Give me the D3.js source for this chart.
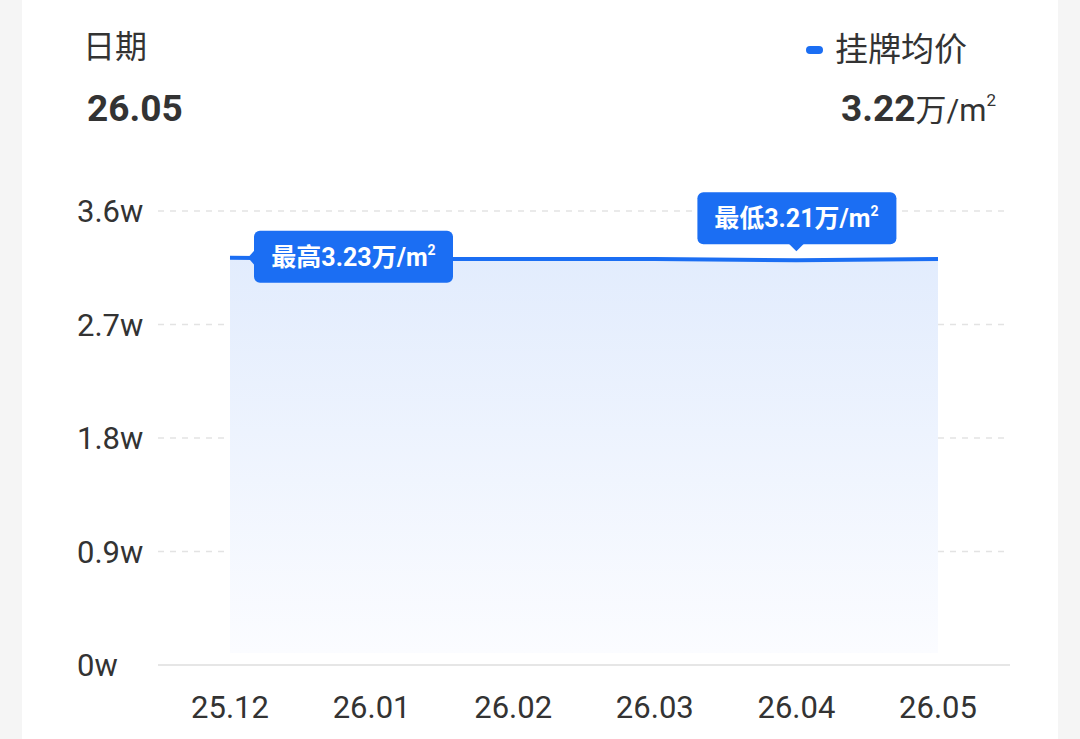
<!DOCTYPE html>
<html><head><meta charset="utf-8">
<script src="https://cdn.jsdelivr.net/npm/d3@7"></script>
<style>
html,body{margin:0;padding:0;background:#f5f5f5;}
svg{display:block;font-family:Roboto,"Noto Sans CJK SC",sans-serif;}
</style></head><body>
<svg id="c" width="1080" height="739"></svg>
<script>
const months = ["25.12","26.01","26.02","26.03","26.04","26.05"];
const prices = [3.23, 3.22, 3.22, 3.22, 3.21, 3.22];
const yTicks = [0, 0.9, 1.8, 2.7, 3.6];
const seriesName = "挂牌均价";
const unit = "万/m²";

const svg = d3.select("#c");
svg.append("rect").attr("x",22).attr("y",0).attr("width",1036).attr("height",739).attr("fill","#fff");

const x = d3.scalePoint().domain(months).range([230, 938]);
const y = d3.scaleLinear().domain([0, 3.6]).range([665, 211]);
const blue = "#1b6ef3";

// grid
svg.append("g").selectAll("line").data(yTicks.filter(d=>d>0)).join("line")
  .attr("x1",158).attr("x2",1008).attr("y1",d=>y(d)).attr("y2",d=>y(d))
  .attr("stroke","#e3e3e3").attr("stroke-width",1.5).attr("stroke-dasharray","6,6");
svg.append("line").attr("x1",158).attr("x2",1010).attr("y1",y(0)).attr("y2",y(0))
  .attr("stroke","#e6e6e6").attr("stroke-width",2);

// y labels
svg.append("g").selectAll("text").data(yTicks).join("text")
  .attr("x",77).attr("y",d=>y(d)+11).attr("font-size",31).attr("fill","#333")
  .text(d=>d3.format("~g")(d)+"w");

// x labels
svg.append("g").selectAll("text").data(months).join("text")
  .attr("x",d=>x(d)).attr("y",718).attr("text-anchor","middle").attr("font-size",31).attr("fill","#333")
  .text(d=>d);

// gradient
const defs = svg.append("defs");
const g = defs.append("linearGradient").attr("id","ag").attr("x1",0).attr("y1",0).attr("x2",0).attr("y2",1);
g.append("stop").attr("offset","0%").attr("stop-color","#e2ecfd");
g.append("stop").attr("offset","100%").attr("stop-color","#fbfcff");

const data = months.map((m,i)=>({m, v:prices[i]}));
svg.append("path").datum(data)
  .attr("d", d3.area().x(d=>x(d.m)).y0(y(0)-12).y1(d=>y(d.v)))
  .attr("fill","url(#ag)");
svg.append("path").datum(data)
  .attr("d", d3.line().x(d=>x(d.m)).y(d=>y(d.v)))
  .attr("fill","none").attr("stroke",blue).attr("stroke-width",4);

// tooltips
const maxI = prices.indexOf(d3.max(prices));
const minI = prices.lastIndexOf(d3.min(prices));
function label(gSel, prefix, val, cx, cy){
  const t = gSel.append("text").attr("x",cx).attr("y",cy+9).attr("text-anchor","middle")
    .attr("fill","#fff").attr("font-size",25).attr("font-weight","bold");
  t.append("tspan").text(prefix + val.toFixed(2) + "万/m");
  t.append("tspan").attr("font-size",14).attr("dy",-11).text("2");
}
// max: arrow left
{
  const px = x(months[maxI]), py = y(prices[maxI]);
  const bx = px+24, bw = 199, bh = 52, by = py-27;
  const gg = svg.append("g");
  gg.append("rect").attr("x",bx).attr("y",by).attr("width",bw).attr("height",bh).attr("rx",6).attr("fill",blue);
  gg.append("path").attr("d",`M${bx+1},${py-8} L${bx-6},${py} L${bx+1},${py+8} Z`).attr("fill",blue);
  label(gg, "最高", prices[maxI], bx+bw/2, by+bh/2);
}
// min: arrow down
{
  const px = x(months[minI]), py = y(prices[minI]);
  const bw = 199, bh = 52, bx = px-99, by = py-68;
  const gg = svg.append("g");
  gg.append("rect").attr("x",bx).attr("y",by).attr("width",bw).attr("height",bh).attr("rx",6).attr("fill",blue);
  gg.append("path").attr("d",`M${px-8},${by+bh-1} L${px},${by+bh+7} L${px+8},${by+bh-1} Z`).attr("fill",blue);
  label(gg, "最低", prices[minI], px, by+bh/2);
}

// header
svg.append("text").attr("x",83).attr("y",58).attr("font-size",32).attr("fill","#333").text("日期");
svg.append("text").attr("x",87).attr("y",121).attr("font-size",37).attr("font-weight","bold").attr("fill","#333").text(months[months.length-1]);
svg.append("rect").attr("x",806).attr("y",46).attr("width",17).attr("height",8).attr("rx",4).attr("fill",blue);
svg.append("text").attr("x",835).attr("y",61).attr("font-size",33).attr("fill","#333").text(seriesName);
const vt = svg.append("text").attr("x",996).attr("y",121).attr("text-anchor","end").attr("fill","#333");
vt.append("tspan").attr("font-size",37).attr("font-weight","bold").text(prices[prices.length-1].toFixed(2));
vt.append("tspan").attr("font-size",31).text("万/m");
vt.append("tspan").attr("font-size",17).attr("dy",-15).text("2");
</script>
</body></html>
